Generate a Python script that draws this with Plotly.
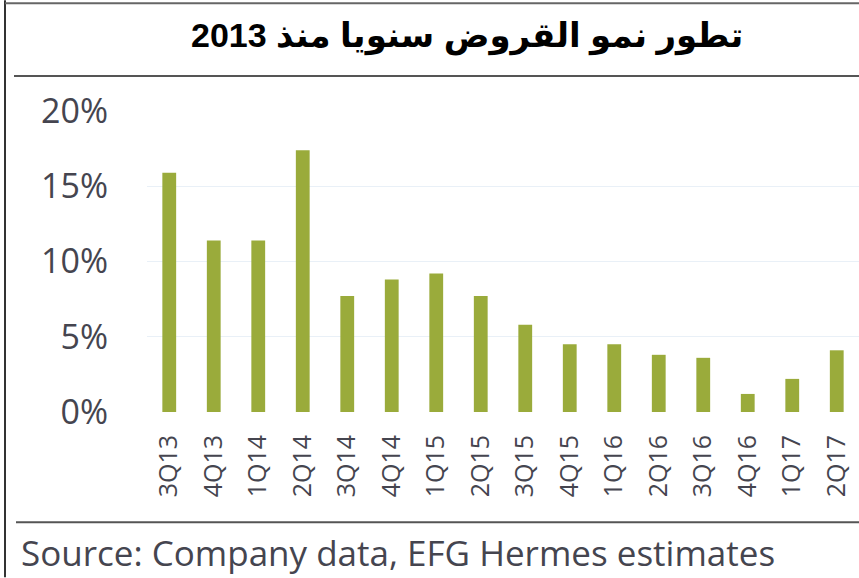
import plotly.graph_objects as go

quarters = ["3Q13", "4Q13", "1Q14", "2Q14", "3Q14", "4Q14", "1Q15", "2Q15",
            "3Q15", "4Q15", "1Q16", "2Q16", "3Q16", "4Q16", "1Q17", "2Q17"]
growth = [15.9, 11.4, 11.4, 17.4, 7.7, 8.8, 9.2, 7.7,
          5.8, 4.5, 4.5, 3.8, 3.6, 1.2, 2.2, 4.1]
y_ticks = [0, 5, 10, 15, 20]
y_tick_labels = ["0%", "5%", "10%", "15%", "20%"]

title_text = "تطور نمو القروض سنويا منذ 2013"
source_text = "Source: Company data, EFG Hermes estimates"

W, H = 859, 578
bar_color = "#9aab3b"
text_gray = "#45454f"

plot_l, plot_r, plot_t, plot_b = 147, 0, 111, 165.5
pw = W - plot_l - plot_r
ph = H - plot_t - plot_b


def px_x(x):
    return (x - plot_l) / pw


def px_y(y):
    return (H - plot_b - y) / ph


fig = go.Figure()
fig.add_trace(go.Bar(x=quarters, y=growth, marker=dict(color=bar_color, line=dict(width=0)),
                     width=0.31, showlegend=False))

fig.update_layout(
    width=W, height=H,
    margin=dict(l=plot_l, r=plot_r, t=plot_t, b=plot_b),
    paper_bgcolor="white", plot_bgcolor="white",
    font=dict(family="Open Sans, sans-serif", color=text_gray),
    xaxis=dict(type="category", tickangle=-90, tickfont=dict(size=25, color=text_gray),
               showgrid=False, showline=False, ticks="", ticklabelstandoff=17,
               range=[-0.5, 15.5]),
    yaxis=dict(range=[0, 20], tickvals=y_ticks, ticktext=y_tick_labels,
               tickfont=dict(size=34, color=text_gray), showgrid=True,
               gridcolor="#e9f0f7", gridwidth=1, zeroline=False, showline=False,
               ticks="", ticklabelstandoff=38),
    shapes=[
        dict(type="line", xref="paper", yref="paper", x0=px_x(5), x1=px_x(5), y0=px_y(0), y1=px_y(H),
             line=dict(color="#333333", width=2)),
        dict(type="line", xref="paper", yref="paper", x0=px_x(5), x1=px_x(W), y0=px_y(3), y1=px_y(3),
             line=dict(color="#666666", width=2)),
        dict(type="line", xref="paper", yref="paper", x0=px_x(14), x1=px_x(W), y0=px_y(76), y1=px_y(76),
             line=dict(color="#555555", width=2)),
        dict(type="line", xref="paper", yref="paper", x0=px_x(16), x1=px_x(W), y0=px_y(523), y1=px_y(523),
             line=dict(color="#555555", width=2)),
    ],
    annotations=[
        dict(text="<b>" + title_text + "</b>", xref="paper", yref="paper",
             x=px_x(467), y=px_y(36), xanchor="center", yanchor="middle",
             showarrow=False,
             font=dict(family="Liberation Sans, DejaVu Sans, Arial", size=34, color="black")),
        dict(text=source_text, xref="paper", yref="paper",
             x=px_x(19), y=px_y(553), xanchor="left", yanchor="middle",
             showarrow=False, font=dict(family="Open Sans", size=35, color=text_gray)),
    ],
)

fig.write_html("out.html")
